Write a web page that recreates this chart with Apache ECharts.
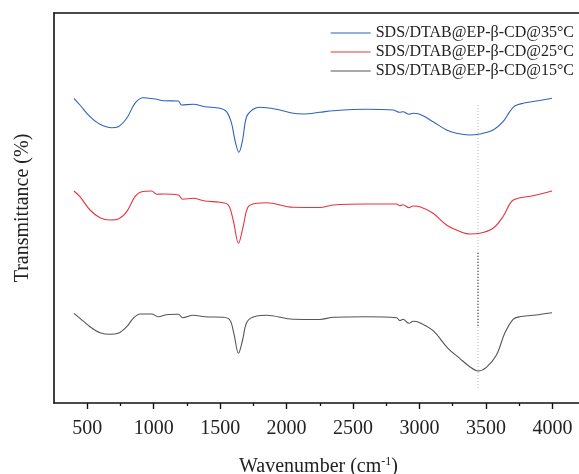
<!DOCTYPE html>
<html>
<head>
  <meta charset="UTF-8">
  <title>FTIR</title>
  <script src="https://cdn.jsdelivr.net/npm/echarts@6/dist/echarts.min.js"></script>
</head>
<body style="margin: 0;background: #fff;overflow: hidden;">
  <div id="main" style="width: 579px;height: 474px;"></div>
  <script type="text/javascript">
    // wavenumber (cm-1), transmittance in arbitrary offset units
    var wn35 = [400, 445, 521, 596, 684, 733, 797, 859, 921, 1022, 1072, 1185, 1210, 1297, 1385, 1498, 1548, 1586, 1611, 1641, 1669, 1699, 1749, 1799, 1924, 2049, 2124, 2250, 2350, 2601, 2801, 2852, 2876, 2921, 2951, 3002, 3102, 3203, 3278, 3378, 3453, 3553, 3628, 3679, 3716, 3779, 3879, 3997];
    var t35 = [304.7, 298, 286.3, 278.7, 275.3, 276.3, 284.7, 299.7, 305.3, 303.7, 302.3, 302, 298, 298.7, 296.3, 294.7, 291.3, 279.7, 263, 250.7, 263, 286.3, 293.7, 295.7, 293.7, 289.7, 289, 290.7, 292.3, 293.7, 293, 290.7, 291.3, 288.7, 289.7, 288.7, 281.3, 273, 269.7, 268, 269, 273, 281.3, 291.3, 297, 299.7, 302, 304.7];

    var wn25 = [400, 445, 521, 596, 671, 733, 797, 859, 909, 985, 1022, 1072, 1185, 1218, 1297, 1385, 1498, 1561, 1598, 1638, 1673, 1711, 1774, 1849, 2049, 2250, 2350, 2601, 2827, 2852, 2876, 2921, 2951, 3002, 3102, 3203, 3278, 3378, 3453, 3553, 3628, 3691, 3741, 3854, 3997];
    var t25 = [212, 206.3, 193, 185.3, 183, 184, 191.3, 206.3, 211.3, 212, 208.7, 209, 208, 203.7, 204.7, 202, 200.7, 198, 183, 159.7, 176.3, 196.3, 199.7, 200.3, 195.7, 195.5, 198, 199, 199, 197.3, 198.3, 195.3, 197, 196.3, 189.7, 178, 173, 169, 169.7, 174.7, 186.3, 201.3, 204.7, 207.3, 212];

    var wn15 = [400, 445, 521, 596, 671, 733, 797, 846, 897, 985, 1034, 1097, 1185, 1218, 1297, 1385, 1523, 1573, 1603, 1638, 1669, 1703, 1774, 1849, 2049, 2250, 2350, 2601, 2827, 2852, 2876, 2921, 2951, 3002, 3102, 3214, 3302, 3378, 3440, 3503, 3579, 3641, 3704, 3754, 3854, 3997];
    var t15 = [89.7, 84.7, 76.3, 70.3, 68.7, 69.7, 76.3, 84.7, 89, 89, 86.3, 88.3, 88.7, 85.3, 87.7, 86.3, 85.7, 83, 69.7, 49.7, 63, 81.3, 87, 87.7, 83.7, 83.5, 85.7, 86.3, 85.3, 82.3, 83.7, 79.7, 81.7, 80.3, 72.3, 54.7, 44.7, 36.3, 32, 35.7, 48, 69.7, 83.7, 86.3, 87.7, 90.3];

    var names = ['SDS/DTAB@EP-β-CD@35°C', 'SDS/DTAB@EP-β-CD@25°C', 'SDS/DTAB@EP-β-CD@15°C'];
    var colors = ['#2f62be', '#e8323c', '#555555'];

    // x ticks
    var majorTicks = [500, 1000, 1500, 2000, 2500, 3000, 3500, 4000];
    var minorTicks = [750, 1250, 1750, 2250, 2750, 3250, 3750];

    // guide line at the O-H band
    var guideWn = 3440;
    var guideLight = [15, 298];
    var guideDark = [77, 151];

    function pairs(xs, ys) {
      return xs.map(function (x, i) { return [x, ys[i]]; });
    }

    var font = 'Liberation Serif';
    var xMin = 250, xMax = 4230;
    var chart = echarts.init(document.getElementById('main'));

    var series = [
      { name: names[0], data: pairs(wn35, t35), color: colors[0] },
      { name: names[1], data: pairs(wn25, t25), color: colors[1] },
      { name: names[2], data: pairs(wn15, t15), color: colors[2] }
    ].map(function (s) {
      return {
        name: s.name,
        type: 'line',
        data: s.data,
        symbol: 'none',
        smooth: 0.35,
        lineStyle: { width: 1.1, color: s.color },
        itemStyle: { color: s.color },
        z: 3
      };
    });

    series.push({
      type: 'line',
      data: [[guideWn, guideLight[0]], [guideWn, guideLight[1]]],
      symbol: 'none',
      lineStyle: { width: 1, color: '#bbbbbb', type: [1, 2] },
      z: 1
    });
    series.push({
      type: 'line',
      data: [[guideWn, guideDark[0]], [guideWn, guideDark[1]]],
      symbol: 'none',
      lineStyle: { width: 1, color: '#222222', type: [1, 2] },
      z: 2
    });

    var option = {
      animation: false,
      grid: { left: 54, right: -4, top: 13, bottom: 71, outerBoundsMode: 'none', containLabel: false },
      legend: {
        data: names,
        orient: 'vertical',
        right: 0,
        top: 20,
        itemWidth: 40,
        itemHeight: 10,
        itemGap: 3,
        icon: 'path://M0,5L40,5L40,6L0,6Z',
        textStyle: { fontFamily: font, fontSize: 16, color: '#222' }
      },
      xAxis: [{
        type: 'value',
        min: xMin,
        max: xMax,
        name: '{n|Wavenumber (cm}{s|-1}{n|)}',
        nameLocation: 'middle',
        nameGap: 53,
        nameTextStyle: {
          rich: {
            n: { fontFamily: font, fontSize: 20, color: '#222' },
            s: { fontFamily: font, fontSize: 12, color: '#222', verticalAlign: 'top', padding: [0, 0, 10, 0] }
          }
        },
        axisLine: { lineStyle: { color: '#111', width: 1.6 } },
        axisTick: { customValues: majorTicks, length: 6, lineStyle: { color: '#111', width: 1.4 } },
        axisLabel: {
          customValues: majorTicks,
          fontFamily: font,
          fontSize: 20,
          color: '#222',
          margin: 16,
          formatter: function (v) { return String(v); }
        },
        splitLine: { show: false }
      }, {
        type: 'value',
        position: 'top',
        min: xMin,
        max: xMax,
        axisLine: { lineStyle: { color: '#111', width: 1.6 } },
        axisTick: { show: false },
        axisLabel: { show: false },
        splitLine: { show: false }
      }, {
        type: 'value',
        position: 'bottom',
        offset: 0,
        min: xMin,
        max: xMax,
        axisLine: { show: false },
        axisTick: { customValues: minorTicks, length: 3, lineStyle: { color: '#111', width: 1.3 } },
        axisLabel: { show: false },
        splitLine: { show: false }
      }],
      yAxis: {
        type: 'value',
        min: 0,
        max: 390,
        name: 'Transmittance (%)',
        nameLocation: 'middle',
        nameGap: 21,
        nameTextStyle: { fontFamily: font, fontSize: 20, color: '#222' },
        axisLine: { show: true, lineStyle: { color: '#111', width: 1.6 } },
        axisTick: { show: false },
        axisLabel: { show: false },
        splitLine: { show: false }
      },
      series: series
    };

    chart.setOption(option);
  </script>
</body>
</html>
